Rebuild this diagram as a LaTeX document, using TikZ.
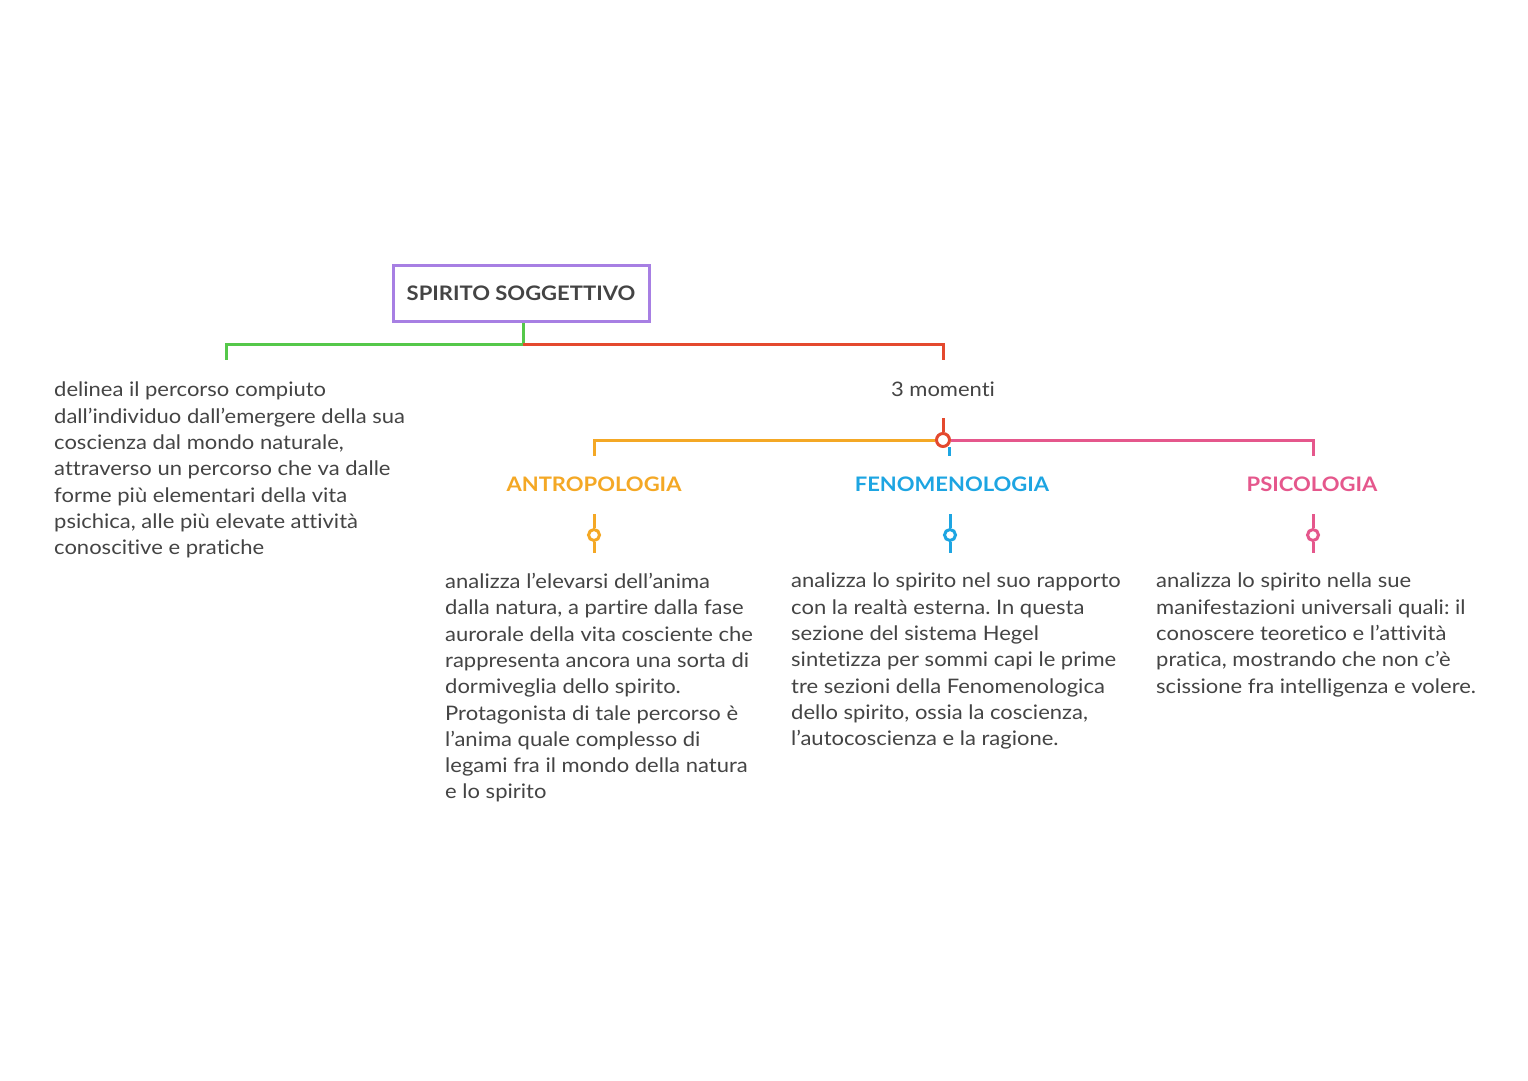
\documentclass[tikz,border=0pt]{standalone}
\usepackage{fontspec}
\setmainfont{Lato}[FakeStretch=1.1, Ligatures=NoCommon]
\frenchspacing
\definecolor{txtgray}{HTML}{444444}
\definecolor{rootpurple}{HTML}{A77FE3}
\definecolor{lgreen}{HTML}{55C84A}
\definecolor{lred}{HTML}{E4492E}
\definecolor{lorange}{HTML}{F4A825}
\definecolor{lblue}{HTML}{1DA5E2}
\definecolor{lpink}{HTML}{E5578C}
\tikzset{
  branch/.style={line width=3pt},
  rootbox/.style={draw=rootpurple, line width=3pt, minimum width=256pt, minimum height=56pt,
    inner sep=0pt, text=txtgray, font=\fontsize{20}{24}\selectfont\bfseries},
  body/.style={anchor=north west, align=left, inner sep=0pt, text=txtgray,
    font=\fontsize{20}{26.3}\selectfont},
  headlbl/.style={inner sep=0pt, font=\fontsize{20}{24}\selectfont\bfseries},
  hubdot/.style={circle, draw, line width=3pt, fill=white, minimum size=13pt, inner sep=0pt},
  knob/.style={circle, draw, line width=3pt, fill=white, minimum size=11pt, inner sep=0pt}
}
\begin{document}
\begin{tikzpicture}[x=1pt,y=-1pt]
  \useasboundingbox[fill=white] (0,0) rectangle (1528,1080);
  % root and first level
  \node[rootbox] (root) at (521,293) {SPIRITO SOGGETTIVO};
  \coordinate (fork) at (523,344);
  \coordinate (descend) at (226,360);
  \coordinate (momend) at (943,360);
  \node[body] (desc) at (54,382) {delinea il percorso compiuto\\
    dall’individuo dall’emergere della sua\\
    coscienza dal mondo naturale,\\
    attraverso un percorso che va dalle\\
    forme più elementari della vita\\
    psichica, alle più elevate attività\\
    conoscitive e pratiche};
  \node[inner sep=0pt, text=txtgray, font=\fontsize{20}{24}\selectfont] (mom) at (943,389) {3 momenti};
  % the three moments
  \coordinate (hubtop) at (943,418);
  \node[hubdot, draw=lred] (hub) at (943,440) {};
  \coordinate (antroend) at (594,456);
  \coordinate (fenotop) at (949,447);
  \coordinate (fenoend) at (949,456);
  \coordinate (psicoend) at (1313,456);
  \node[headlbl, text=lorange] (antro) at (594,484) {ANTROPOLOGIA};
  \node[headlbl, text=lblue] (feno) at (952,484) {FENOMENOLOGIA};
  \node[headlbl, text=lpink] (psico) at (1312,484) {PSICOLOGIA};
  \node[knob, draw=lorange] (kantro) at (594,535) {};
  \node[knob, draw=lblue] (kfeno) at (950,535) {};
  \node[knob, draw=lpink] (kpsico) at (1313,535) {};
  \node[body] (tantro) at (445,573) {analizza l’elevarsi dell’anima\\
    dalla natura, a partire dalla fase\\
    aurorale della vita cosciente che\\
    rappresenta ancora una sorta di\\
    dormiveglia dello spirito.\\
    Protagonista di tale percorso è\\
    l’anima quale complesso di\\
    legami fra il mondo della natura\\
    e lo spirito};
  \node[body] (tfeno) at (791,573) {analizza lo spirito nel suo rapporto\\
    con la realtà esterna. In questa\\
    sezione del sistema Hegel\\
    sintetizza per sommi capi le prime\\
    tre sezioni della Fenomenologica\\
    dello spirito, ossia la coscienza,\\
    l’autocoscienza e la ragione.};
  \node[body] (tpsico) at (1156,573) {analizza lo spirito nella sue\\
    manifestazioni universali quali: il\\
    conoscere teoretico e l’attività\\
    pratica, mostrando che non c’è\\
    scissione fra intelligenza e volere.};
  % connectors
  \draw[branch, lgreen] (root.south -| fork) -- (fork) -| (descend);
  \draw[branch, lred] (fork) -| (momend);
  \draw[branch, lred] (hubtop) -- (hub.north);
  \draw[branch, lorange] (hub.west) -| (antroend);
  \draw[branch, lpink] (hub.east) -| (psicoend);
  \draw[branch, lblue] (fenotop) -- (fenoend);
  \draw[branch, lorange] (kantro.north) -- ++(0,-14);
  \draw[branch, lorange] (kantro.south) -- ++(0,11);
  \draw[branch, lblue] (kfeno.north) -- ++(0,-14);
  \draw[branch, lblue] (kfeno.south) -- ++(0,11);
  \draw[branch, lpink] (kpsico.north) -- ++(0,-14);
  \draw[branch, lpink] (kpsico.south) -- ++(0,11);
\end{tikzpicture}
\end{document}
